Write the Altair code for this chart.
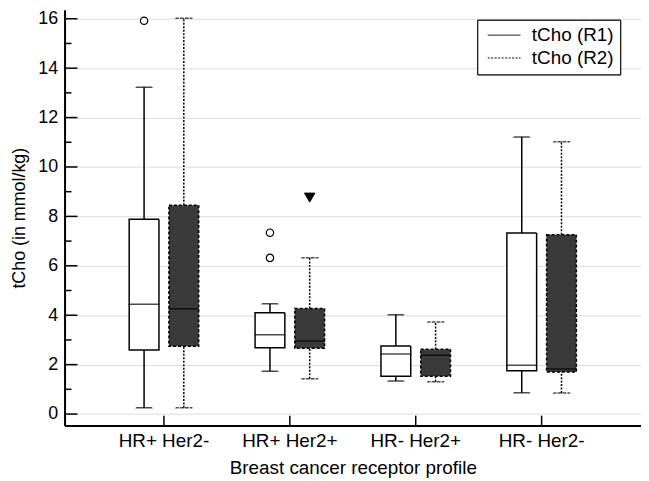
import altair as alt
import pandas as pd

categories = ["HR+ Her2-", "HR+ Her2+", "HR- Her2+", "HR- Her2-"]
series = ["tCho (R1)", "tCho (R2)"]

r1_low = [0.25, 1.73, 1.34, 0.86]
r1_q1 = [2.59, 2.68, 1.53, 1.75]
r1_med = [4.44, 3.21, 2.43, 1.97]
r1_q3 = [7.88, 4.10, 2.75, 7.33]
r1_high = [13.23, 4.46, 4.02, 11.21]

r2_low = [0.25, 1.43, 1.31, 0.85]
r2_q1 = [2.74, 2.66, 1.53, 1.70]
r2_med = [4.26, 2.96, 2.38, 1.82]
r2_q3 = [8.45, 4.27, 2.62, 7.26]
r2_high = [16.02, 6.33, 3.73, 11.02]

out_cat = ["HR+ Her2-", "HR+ Her2+", "HR+ Her2+", "HR+ Her2+"]
out_series = ["tCho (R1)", "tCho (R1)", "tCho (R1)", "tCho (R2)"]
out_val = [15.92, 7.34, 6.32, 8.76]

major_ticks = [0, 2, 4, 6, 8, 10, 12, 14, 16]
minor_ticks = [1, 3, 5, 7, 9, 11, 13, 15]

rows = []
for i, c in enumerate(categories):
    rows.append(dict(cat=c, series=series[0], low=r1_low[i], q1=r1_q1[i],
                     med=r1_med[i], q3=r1_q3[i], high=r1_high[i]))
    rows.append(dict(cat=c, series=series[1], low=r2_low[i], q1=r2_q1[i],
                     med=r2_med[i], q3=r2_q3[i], high=r2_high[i]))
box_df = pd.DataFrame(rows)
box_df["grp"] = box_df["series"]
out_df = pd.DataFrame({"cat": out_cat, "series": out_series, "v": out_val})
major_df = pd.DataFrame({"v": major_ticks})
minor_df = pd.DataFrame({"v": minor_ticks})
cat_df = pd.DataFrame({"cat": categories})

FONT = "Liberation Sans"
W, H = 581, 419

yscale = alt.Scale(domain=[-0.467, 16.36], nice=False, zero=False)
xscale = alt.Scale(domain=categories, paddingInner=0, paddingOuter=0.2895)
offscale = alt.Scale(domain=series, paddingInner=0, paddingOuter=0.584)
dash_range = [[1, 0], [3, 2]]

legend = alt.Legend(
    title=None, orient="none", legendX=416, legendY=10,
    symbolType="M-0.9,0H5.1", symbolSize=121, symbolStrokeWidth=1,
    symbolStrokeColor="black", symbolFillColor="black", symbolOpacity=1,
    labelFontSize=19, labelFont=FONT,
    labelColor="black", strokeColor="black", fillColor="white",
    padding=6, rowPadding=3, labelOffset=30,
    labelExpr="datum.label + '      '",
)

x_enc = alt.X("cat:N", scale=xscale, sort=categories,
              axis=alt.Axis(title="Breast cancer receptor profile", labelAngle=0))
xo_enc = alt.XOffset("series:N", scale=offscale, sort=series)
dash_leg = alt.StrokeDash("series:N", scale=alt.Scale(domain=series, range=[[1, 0], [2, 1.5]]), legend=legend)
dash_enc = alt.StrokeDash("grp:N", scale=alt.Scale(domain=series, range=dash_range), legend=None)

y_axis = alt.Axis(title="tCho (in mmol/kg)", values=major_ticks)

base = alt.Chart(box_df)

def box_layer(s, fill):
    return base.transform_filter(alt.datum.series == s).mark_bar(
        size=30, stroke="black", strokeWidth=1.5, fill=fill).encode(
        x=x_enc, xOffset=xo_enc,
        y=alt.Y("q1:Q", scale=yscale, axis=y_axis),
        y2="q3:Q",
        strokeDash=dash_enc,
    )

box1 = box_layer(series[0], "white")
box2 = box_layer(series[1], "#3a3a3a")

whisk_up = base.mark_rule(color="black", strokeWidth=1.5).encode(
    x=x_enc, xOffset=xo_enc,
    y=alt.Y("q3:Q", scale=yscale, axis=y_axis), y2="high:Q",
    strokeDash=dash_leg,
)
whisk_lo = base.mark_rule(color="black", strokeWidth=1.5).encode(
    x=x_enc, xOffset=xo_enc,
    y=alt.Y("low:Q", scale=yscale, axis=y_axis), y2="q1:Q",
    strokeDash=dash_leg,
)

def tick_layer(field, size):
    return base.mark_tick(size=size, thickness=0.01, filled=False,
                          color="black", strokeWidth=1.5).encode(
        x=x_enc, xOffset=xo_enc,
        y=alt.Y(f"{field}:Q", scale=yscale, axis=y_axis),
        strokeDash=dash_enc,
    )

cap_hi = tick_layer("high", 16)
cap_lo = tick_layer("low", 16)
medians = tick_layer("med", 30)

out_base = alt.Chart(out_df)
out1 = out_base.transform_filter(alt.datum.series == series[0]).mark_point(
    shape="circle", size=55, fill="white", stroke="black", strokeWidth=1.2, opacity=1
).encode(x=x_enc, xOffset=xo_enc, y=alt.Y("v:Q", scale=yscale, axis=y_axis))
out2 = out_base.transform_filter(alt.datum.series == series[1]).mark_point(
    shape="triangle-down", size=110, fill="black", stroke="black", strokeWidth=1, opacity=1
).encode(x=x_enc, xOffset=xo_enc, y=alt.Y("v:Q", scale=yscale, axis=y_axis))

ytick_major = alt.Chart(major_df).mark_rule(color="black", strokeWidth=1.5).encode(
    y=alt.Y("v:Q", scale=yscale, axis=y_axis), x=alt.value(0), x2=alt.value(13))
ytick_minor = alt.Chart(minor_df).mark_rule(color="black", strokeWidth=1.5).encode(
    y=alt.Y("v:Q", scale=yscale, axis=y_axis), x=alt.value(0), x2=alt.value(7))
xticks = alt.Chart(cat_df).mark_rule(color="black", strokeWidth=1.5).encode(
    x=x_enc, y=alt.value(H), y2=alt.value(H - 10))

chart = alt.layer(
    whisk_up, whisk_lo, box1, box2, cap_hi, cap_lo, medians, out1, out2,
    ytick_major, ytick_minor, xticks,
).resolve_scale(strokeDash="independent").resolve_legend(strokeDash="independent").properties(
    width=W, height=H,
    autosize=alt.AutoSizeParams(type="none"),
    padding={"left": 57, "top": 0, "right": 0, "bottom": 54},
).configure_view(stroke=None).configure_axis(
    labelFont=FONT, titleFont=FONT, labelFontSize=18, titleFontSize=18,
    labelColor="black", titleColor="black", titleFontWeight="normal",
    domainColor="black", domainWidth=2, tickSize=0, ticks=False,
).configure_axisY(
    grid=True, gridColor="#dcdcdc", gridWidth=1, labelPadding=7, titlePadding=9,
).configure_axisX(
    grid=False, labelPadding=6, titlePadding=8, labelFontSize=19, titleFontSize=19,
)

chart.save("out.html", embed_options={"renderer": "svg", "actions": False})
